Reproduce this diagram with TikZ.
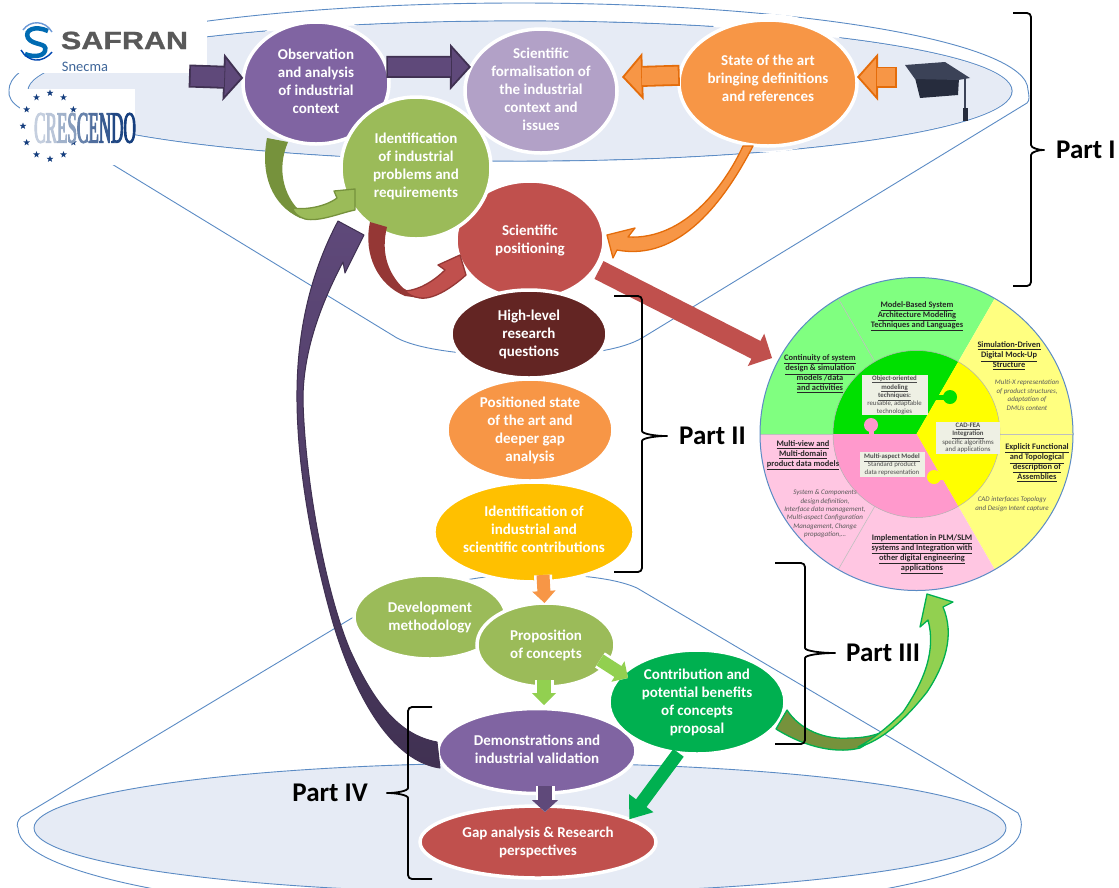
\documentclass[tikz,border=0pt]{standalone}
\usepackage{fontspec}
\setmainfont{Carlito}
\newfontfamily\safranfont[FakeStretch=1.22,BoldFeatures={FakeBold=1}]{Liberation Sans}
\newfontfamily\crescfont[FakeStretch=0.38,FakeBold=2]{Liberation Serif}
\usetikzlibrary{
  shapes.geometric,
  arrows.meta,
  positioning  % Function "of" (e.g. [right=of x])
}
\definecolor{stagepurple}{HTML}{8064A2}
\definecolor{stagelilac}{HTML}{B2A1C7}
\definecolor{stageorange}{HTML}{F79646}
\definecolor{stagegreen}{HTML}{9BBB59}
\definecolor{stagered}{HTML}{C0504D}
\definecolor{stagebrown}{HTML}{632523}
\definecolor{stagegold}{HTML}{FFC000}
\definecolor{stageemerald}{HTML}{00B050}
\definecolor{arrowpurple}{HTML}{5F497A}
\definecolor{edgepurple}{HTML}{403152}
\definecolor{edgeorange}{HTML}{E46C0A}
\definecolor{edgegreen}{HTML}{76923C}
\definecolor{edgered}{HTML}{953735}
\definecolor{lightgreen}{HTML}{92D050}
\definecolor{funnelfill}{HTML}{E6EBF5}
\definecolor{funnelline}{HTML}{5B8BC4}
\definecolor{wheelgreen}{HTML}{80FF80}
\definecolor{wheelyellow}{HTML}{FFFF80}
\definecolor{wheelpink}{HTML}{FFC6E2}
\definecolor{hubgreen}{HTML}{00E000}
\definecolor{hubyellow}{HTML}{FFFF00}
\definecolor{hubpink}{HTML}{FF99CC}
\definecolor{hubbox}{HTML}{EEF0E4}
\definecolor{crescnavy}{HTML}{153E7E}
\definecolor{capboard}{HTML}{3B4257}
\definecolor{capbody}{HTML}{262C3D}
\def\mywheelr{156.5pt}
\def\myhubr{83.5pt}
\newcommand{\wul}[1]{\underline{#1}}
\tikzset{
  stage/.style n args={3}{
    ellipse,
    fill=#1,
    minimum width=#2,
    minimum height=#3,
    draw=white,
    line width=3.5pt,
    inner sep=0pt,
    outer sep=0pt,
    text=white,
    align=center,
    font=\fontsize{15}{18}\selectfont\bfseries
  },
  blockarrow/.style n args={5}{
    draw=#2,
    line width=#3,
    -{Triangle[length=#5,width=#4,fill=#1,line width=1.8pt]},
    postaction={draw=#1,line width=#3-3.6pt,arrows=-,shorten >=#5-1pt,shorten <=1.8pt}
  },
  haloarrow/.style n args={5}{
    preaction={draw=white,line width=#3+5pt,-{Triangle[length=#5,width=#4,line width=4pt,fill=white]}},
    blockarrow={#1}{#2}{#3}{#4}{#5}
  },
  ribbon/.style 2 args={
    fill=#1,
    draw=#2,
    line width=1.3pt,
    line join=round
  },
  funnel/.style={
    draw=funnelline,
    line width=0.9pt
  },
  partbrace/.style={
    draw=black,
    line width=1.8pt,
    rounded corners=4pt
  },
  partlabel/.style={
    inner sep=0pt,
    font=\fontsize{27}{28}\selectfont\bfseries
  },
  wheelhead/.style={
    inner sep=0pt,
    align=center,
    text=black!85,
    font=\fontsize{8.4}{10}\selectfont\bfseries
  },
  wheelnote/.style={
    inner sep=0pt,
    align=center,
    text=black!65,
    font=\fontsize{7}{8.4}\selectfont\itshape
  },
  hubnote/.style={
    fill=hubbox,
    inner sep=0pt,
    align=center,
    text=black!70,
    font=\fontsize{6.8}{7.8}\selectfont
  },
  logostar/.style={
    star,
    star points=5,
    star point ratio=2.4,
    fill=crescnavy,
    minimum size=7pt,
    inner sep=0pt
  }
}
\begin{document}
\begin{tikzpicture}[x=1pt,y=-1pt]
\useasboundingbox (0,0) rectangle (1119,887);
% funnels
\draw[funnel,line width=1.2pt] (520,91) ellipse [x radius=492pt,y radius=70pt];
\draw[funnel] (9,90) arc [start angle=180,end angle=0,x radius=509.5pt,y radius=87pt]
  .. controls (1029,96) and (1030,100) .. (1027,103) -- (642,338)
  .. controls (625,348) and (590,356) .. (530,356)
  .. controls (470,356) and (420,350) .. (397,338) -- (20,108)
  .. controls (12,103) and (8,97) .. (9,90);
\foreach \cx/\cy/\rx/\ry in {316/83/79/67,541/91/82/68,768/83/95/69}
  \fill[white] (\cx,\cy) ellipse [x radius=\rx pt,y radius=\ry pt];
\fill[funnelfill] (520,91) ellipse [x radius=491.5pt,y radius=69.5pt];
\fill[funnelfill] (520,828) ellipse [x radius=486pt,y radius=65pt];
\draw[funnel] (520,828) ellipse [x radius=486pt,y radius=65pt];
\draw[funnel] (18,828) .. controls (16,825) and (18,820) .. (21,817) -- (352,618)
  .. controls (400,592) and (470,574) .. (530,574)
  .. controls (575,574) and (615,578) .. (637,588) -- (1018,813)
  .. controls (1021,818) and (1022,824) .. (1021,828)
  arc [start angle=0,end angle=-180,x radius=501.5pt,y radius=89pt];

% logos
\fill[white] (0,0) rectangle (207,73);
\fill[white] (20,89) rectangle (135,165);
\draw[line width=1.4pt,color=cyan!50!blue!60] (23,30) .. controls (30,20) and (45,20) .. (52,32);
\draw[line width=4.5pt,color=blue!40!cyan!70!black] (48,31) .. controls (35,25) and (24,30) .. (28,38)
  .. controls (33,46) and (48,42) .. (45,51) .. controls (43,57) and (32,57) .. (25,54);
\draw[line width=1.4pt,color=blue!60!cyan!70!black] (21,50) .. controls (28,62) and (42,64) .. (52,52);
\node[inner sep=0pt,text=black!65,font=\fontsize{25}{25}\selectfont\safranfont\bfseries] (safran) at (124.5,40.5) {SAFRAN};
\node[inner sep=0pt,text=cyan!50!blue!70!black,font=\fontsize{14.5}{15}\selectfont] (snecma) at (85,67) {Snecma};
\foreach \a in {30,60,...,330}
  \node[logostar] (star\a) at ([shift={(50,126)}]\a:27pt and 33pt) {};
\node[inner sep=0pt,font=\fontsize{45}{45}\selectfont\crescfont] (crescendo) at (85,128) {%
  \textcolor{crescnavy!25}{C}\textcolor{crescnavy!30}{R}\textcolor{crescnavy!40}{E}\textcolor{crescnavy!50}{S}%
  \textcolor{crescnavy!65}{C}\textcolor{crescnavy!75}{E}\textcolor{crescnavy!85}{N}\textcolor{crescnavy!95}{D}\textcolor{crescnavy}{O}};

% mortarboard
\fill[capbody] (915,78) -- (920,98) -- (958,95) -- (959,78) -- cycle;
\fill[capboard] (905,65) -- (945,62) -- (970,78) -- (958,80) -- (915,79) -- cycle;
\draw[line width=2pt,color=capboard] (965,78) -- (965,112);
\fill[capbody] (963,108) rectangle (967.5,121);

% stages
\node[stage={stagepurple}{146pt}{122pt},text depth=4pt] (obs) at (316,83) {Observation\\and analysis\\of industrial\\context};
\node[stage={stagelilac}{152pt}{124pt},text depth=3pt] (form) at (541,91) {Scientific\\formalisation of\\the industrial\\context and\\issues};
\node[stage={stageorange}{178pt}{126pt},text depth=10pt] (state) at (768,83) {State of the art\\bringing definitions\\and references};
\node[stage={stagered}{148pt}{118pt},text depth=2pt] (pos) at (530,240) {Scientific\\positioning};
\node[stage={stagegreen}{150pt}{142pt},text depth=5pt] (ident) at (416,168) {Identification\\of industrial\\problems and\\requirements};
\node[stage={stagebrown}{156pt}{88pt}] (high) at (529,334) {High-level\\research\\questions};
\node[stage={stageorange}{166pt}{102pt}] (posstate) at (530,430) {Positioned state\\of the art and\\deeper gap\\analysis};
\node[stage={stagegold}{200pt}{100pt},text depth=6pt] (contrib) at (534,532) {Identification of\\industrial and\\scientific contributions};
\node[stage={stagegreen}{152pt}{84pt},text depth=2pt] (dev) at (430,617) {Development\\methodology};
\node[stage={stagegreen}{138pt}{84pt}] (prop) at (546,645) {Proposition\\of concepts};
\node[stage={stagepurple}{198pt}{85pt},text depth=4pt] (demo) at (537,751) {Demonstrations and\\industrial validation};
\node[stage={stageemerald}{176pt}{104pt}] (benefit) at (697,702) {Contribution and\\potential benefits\\of concepts\\proposal};
\node[stage={stagered}{236pt}{72pt}] (gap) at (538,842) {Gap analysis  \& Research\\perspectives};

% wheel
\begin{scope}[shift={(916.5,434)}]
\foreach \from/\to/\col in {120/180/wheelgreen,60/120/wheelgreen,0/60/wheelyellow,-60/0/wheelyellow,-120/-60/wheelpink,-180/-120/wheelpink}
  \fill[\col] (0,0) -- (\from:\mywheelr) arc [start angle=\from,end angle=\to,radius=\mywheelr] -- cycle;
\foreach \a in {0,120,180,240}
  \draw[black!25,line width=0.6pt] (\a:\myhubr) -- (\a:\mywheelr);
\foreach \from/\to/\col in {60/180/hubgreen,-60/60/hubyellow,-180/-60/hubpink}
  \fill[\col] (0,0) -- (\from:\myhubr) arc [start angle=\from,end angle=\to,radius=\myhubr] -- cycle;
\draw[black!30,line width=0.5pt] (0,0) circle [radius=\myhubr];
\end{scope}
\foreach \col/\bx/\by/\cx/\cy in {hubgreen/936/397/950/397,hubpink/871/435/871/425,hubyellow/943/477/934/477}{
  \draw[\col,line width=5pt] (\bx,\by) -- (\cx,\cy);
  \fill[\col] (\cx,\cy) circle [radius=7pt];
}
\node[circle,draw=funnelline,line width=1pt,minimum size=313pt,inner sep=0pt,outer sep=0pt] (wheel) at (916.5,434) {};
\node[wheelhead] (mbsa) at (917,316) {\wul{Model-Based System}\\\wul{Architecture  Modeling}\\\wul{Techniques and Languages}};
\node[wheelhead] (cont) at (820,374) {\wul{Continuity of system}\\\wul{design \& simulation}\\\wul{models /data}\\\wul{and activities}};
\node[wheelhead] (simdmu) at (1009,356) {\wul{Simulation-Driven}\\\wul{Digital Mock-Up}\\\wul{Structure}};
\node[wheelnote] (multix) at (1027,395) {Multi-X representation\\of product structures,\\adaptation of\\DMUs content};
\node[wheelhead] (explicit) at (1037,463) {\wul{Explicit Functional}\\\wul{and Topological}\\\wul{description of}\\\wul{Assemblies}};
\node[wheelnote] (cadint) at (1012,504) {CAD interfaces Topology\\and Design Intent capture};
\node[wheelhead] (plm) at (922,554) {\wul{Implementation in PLM/SLM}\\\wul{systems and Integration with}\\\wul{other digital engineering}\\\wul{applications}};
\node[wheelhead] (mview) at (803,455) {\wul{Multi-view and}\\\wul{Multi-domain}\\\wul{product data models}};
\node[wheelnote] (syscomp) at (825,514) {System \& Components\\design definition,\\Interface data management,\\Multi-aspect Configuration\\Management, Change\\propagation,\ldots};
\node[hubnote,minimum width=66pt,minimum height=40pt] (hubobj) at (894.5,395) {\wul{\textbf{Object-oriented}}\\\wul{\textbf{modeling}}\\\wul{\textbf{techniques:}}\\reusable, adaptable\\technologies};
\node[hubnote,minimum width=64pt,minimum height=32pt] (hubcad) at (968,438) {\wul{\textbf{CAD-FEA}}\\\wul{\textbf{Integration}}\\specific algorithms\\and applications};
\node[hubnote,minimum width=65pt,minimum height=25pt] (hubaspect) at (892,464.5) {\wul{\textbf{Multi-aspect Model}}\\Standard product\\data representation};

% straight arrows
\coordinate (cap tail) at (897,77);
\coordinate (pos tail) at (599,270);
\coordinate (wheel tip) at (772,358);
\draw[blockarrow={arrowpurple}{edgepurple}{23pt}{47pt}{20pt}] (189,76) -- (obs.176);
\draw[blockarrow={arrowpurple}{edgepurple}{22pt}{46pt}{21pt}] (obs.13) -- (form.161);
\draw[blockarrow={stageorange}{edgeorange}{21pt}{47pt}{21pt}] (state.175) -- (622,77);
\draw[blockarrow={stageorange}{edgeorange}{21pt}{47pt}{21pt}] (cap tail) -- (state.east |- cap tail);
\draw[blockarrow={stagered}{stagered}{20pt}{36pt}{18pt}] (pos tail) -- (wheel tip);
\draw[haloarrow={stageorange}{stageorange}{13pt}{23pt}{12pt}] (543,575) -- (prop.92);
\draw[haloarrow={lightgreen}{lightgreen}{14pt}{24pt}{12pt}] (544,680) -- (544,705);
\draw[haloarrow={lightgreen}{lightgreen}{13pt}{24pt}{12pt}] (600,660) -- (628,678);
\draw[haloarrow={arrowpurple}{arrowpurple}{14pt}{26pt}{12pt}] (545,786) -- (545,812);
\draw[blockarrow={stageemerald}{stageemerald}{13pt}{30pt}{20pt}] (benefit.250) -- (gap.14);

% curved arrows
\coordinate (obs tail) at (267,138);
\coordinate (ident tip) at (355,189);
\coordinate (ident tail) at (370,222);
\coordinate (pos tip) at (460,255);
\coordinate (state tail) at (743,146);
\coordinate (pos entry) at (607,235);
\coordinate (demo tail) at (437,742);
\coordinate (ident entry) at (364,235);
\coordinate (benefit tail) at (787,710);
\coordinate (wheel entry) at (927,594);
\fill[edgegreen] (obs tail) .. controls (260,175) and (272,205) .. (300,218) -- (310,219)
  -- (297,208) .. controls (285,195) and (276,170) .. (288,142) -- cycle;
\path[ribbon={stagegreen}{edgegreen}] (293,208) .. controls (305,210) and (325,207) .. (337,198) -- (334,191)
  -- (ident tip) -- (355,210) .. controls (340,213) and (320,222) .. (305,219)
  .. controls (298,217) and (293,212) .. (293,208) -- cycle;
\fill[edgered] (ident tail) .. controls (363,255) and (378,285) .. (405,296) -- (420,298)
  -- (403,288) .. controls (390,275) and (380,255) .. (387,227) -- cycle;
\path[ribbon={stagered}{edgered}] (405,291) .. controls (420,290) and (435,280) .. (445,270) -- (438,265)
  -- (pos tip) -- (466,275) .. controls (455,285) and (435,300) .. (420,298)
  .. controls (413,297) and (408,294) .. (405,291) -- cycle;
\path[ribbon={stageorange}{edgeorange}] (state tail) .. controls (725,185) and (685,240) .. (628,237) -- (635,228)
  -- (pos entry) -- (613,258) -- (617,250) .. controls (680,262) and (725,200) .. (753,146) -- cycle;
\shade[top color=arrowpurple,middle color=edgepurple,bottom color=edgepurple,draw=edgepurple,line width=1pt,line join=round]
  (demo tail) .. controls (400,735) and (375,705) .. (350,650)
  .. controls (325,590) and (305,480) .. (303,400) .. controls (303,360) and (315,315) .. (343,262)
  -- (345,273) -- (ident entry) -- (338,221) .. controls (320,255) and (298,310) .. (297,390)
  .. controls (296,470) and (315,560) .. (333,623) .. controls (350,680) and (385,760) .. (440,768) -- cycle;
\path[ribbon={edgegreen}{stageemerald}] (benefit tail) .. controls (800,730) and (825,740) .. (850,738)
  .. controls (862,738) and (872,736) .. (880,733) -- (893,728) -- (860,748)
  .. controls (840,753) and (810,750) .. (776,729) -- cycle;
\path[ribbon={lightgreen}{stageemerald}] (858,747) .. controls (880,742) and (905,720) .. (927,692)
  .. controls (945,665) and (955,635) .. (943,607) -- (953,602) -- (wheel entry) -- (920,627) -- (928,620)
  .. controls (936,650) and (925,680) .. (903,712) .. controls (890,725) and (875,738) .. (858,747) -- cycle;

% parts
\foreach \tipx/\barx/\tickx/\ytop/\ymid/\ybot/\part in {1013/1031/1047/13/150/286/I,614/642/670/296/436/572/II,775/805/838/563/653/744/III,432/408/384/707/793/879/IV}{
  \draw[partbrace] (\tipx,\ytop) -- (\barx,\ytop) -- (\barx,\ymid-9)
    .. controls (\barx,\ymid-2) and ({(\barx+\tickx)/2},\ymid) .. (\tickx,\ymid)
    .. controls ({(\barx+\tickx)/2},\ymid) and (\barx,\ymid+2) .. (\barx,\ymid+9)
    -- (\barx,\ybot) -- (\tipx,\ybot);
  \coordinate (tick\part) at (\tickx,\ymid);
}
\node[partlabel,right=9pt of tickI] (partI) {Part I};
\node[partlabel,right=9pt of tickII] (partII) {Part II};
\node[partlabel,right=8pt of tickIII] (partIII) {Part III};
\node[partlabel,left=16pt of tickIV] (partIV) {Part IV};
\end{tikzpicture}
\end{document}
